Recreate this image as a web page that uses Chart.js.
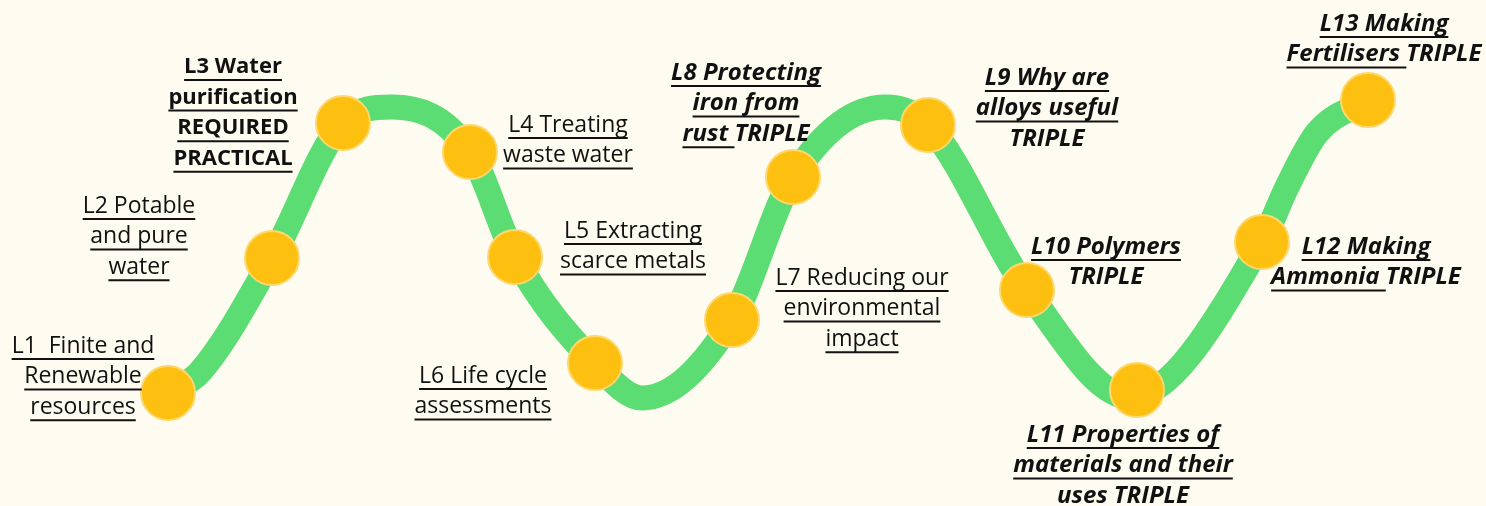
<!DOCTYPE html>
<html>
<head>
<meta charset="utf-8">
<script src="https://cdn.jsdelivr.net/npm/chart.js@4.4.1/dist/chart.umd.min.js"></script>
<style>
  html, body { margin: 0; padding: 0; background: #fefcf0; }
  #wrap { width: 1486px; height: 506px; }
</style>
</head>
<body>
<div id="wrap"><canvas id="journey"></canvas></div>
<script>
// lesson stops (circle centres)
var lessonX = [168, 272, 343, 470, 515, 595, 732, 793, 928, 1027, 1137, 1262, 1368];
var lessonY = [393, 258, 123, 152, 257, 363, 320, 177, 125, 290, 390, 242, 100];

// the green road: stops plus its crests, dips and the bends at each end
var roadX = [168, 200, 272, 343, 392, 470, 515, 595, 642, 732, 793, 885, 928, 1027, 1130, 1262, 1287, 1317, 1368];
var roadY = [393, 372, 258, 123, 107, 152, 257, 363, 398, 320, 177, 107, 125, 290, 397, 242, 187, 133, 100];

// label text, one entry per line: [text, underlined]
var lessonLabels = [
    [[["L1  Finite and", 1]], [["Renewable", 1]], [["resources", 1]]],
    [[["L2 Potable", 1]], [["and pure", 1]], [["water", 1]]],
    [[["L3 Water", 1]], [["purification", 1]], [["REQUIRED", 1]], [["PRACTICAL", 1]]],
    [[["L4 Treating", 1]], [["waste water", 1]]],
    [[["L5 Extracting", 1]], [["scarce metals", 1]]],
    [[["L6 Life cycle", 1]], [["assessments", 1]]],
    [[["L7 Reducing our", 1]], [["environmental", 1]], [["impact", 1]]],
    [[["L8 Protecting", 1]], [["iron from", 1]], [["rust ", 1], ["TRIPLE", 0]]],
    [[["L9 Why are", 1]], [["alloys useful", 1]], [["TRIPLE", 0]]],
    [[["L10 Polymers", 1]], [["TRIPLE", 0]]],
    [[["L11 Properties of", 1]], [["materials and their", 1]], [["uses TRIPLE", 0]]],
    [[["L12 Making", 1]], [["Ammonia ", 1], ["TRIPLE", 0]]],
    [[["L13 Making", 1]], [["Fertilisers ", 1], ["TRIPLE", 0]]]
];
var lessonStyle = ["r", "r", "b", "r", "r", "r", "r", "bi", "bi", "bi", "bi", "bi", "bi"];

// where each label block sits: centre x, first line centre y
var labelX = [83, 139, 233, 568, 633, 483, 862, 746, 1047, 1106, 1123, 1366, 1384];
var labelY = [346, 206, 67, 125, 231, 376, 278, 73, 78, 247, 435, 247, 24];

var FONT = '"Open Sans", "DejaVu Sans", sans-serif';
var LINE_H = 30.6;

function fontFor(style) {
    if (style === "b") return "bold 22px " + FONT;
    if (style === "bi") return "italic bold 24px " + FONT;
    return "23px " + FONT;
}

// draws the lesson labels next to the stops
var labelPlugin = {
    id: "lessonLabels",
    afterDatasetsDraw: function(chart) {
        var ctx = chart.ctx;
        var xs = chart.scales.x, ys = chart.scales.y;
        ctx.save();
        ctx.fillStyle = "#111";
        ctx.strokeStyle = "#111";
        ctx.lineWidth = 2;
        ctx.textBaseline = "middle";
        ctx.textAlign = "left";
        lessonLabels.forEach(function(lines, i) {
            ctx.font = fontFor(lessonStyle[i]);
            var cx = xs.getPixelForValue(labelX[i]);
            var cy = ys.getPixelForValue(labelY[i]);
            lines.forEach(function(parts, j) {
                var full = parts.map(function(p) { return p[0]; }).join("");
                var w = ctx.measureText(full).width;
                var x = cx - w / 2;
                var y = cy + j * LINE_H;
                parts.forEach(function(p) {
                    var pw = ctx.measureText(p[0]).width;
                    ctx.fillText(p[0], x, y);
                    if (p[1]) {
                        ctx.beginPath();
                        ctx.moveTo(x, y + 13);
                        ctx.lineTo(x + pw, y + 13);
                        ctx.stroke();
                    }
                    x += pw;
                });
            });
        });
        ctx.restore();
    }
};

var road = roadX.map(function(x, i) { return { x: x, y: roadY[i] }; });
var stops = lessonX.map(function(x, i) { return { x: x, y: lessonY[i] }; });

var chart = new Chart(document.getElementById("journey"), {
    type: "line",
    data: {
        datasets: [
            {
                label: "stops",
                data: stops,
                showLine: false,
                pointRadius: 27,
                pointBackgroundColor: "#fec010",
                pointBorderColor: "#fdd770",
                pointBorderWidth: 2,
                order: 1
            },
            {
                label: "road",
                data: road,
                borderColor: "#5bdd73",
                borderWidth: 25,
                borderCapStyle: "round",
                cubicInterpolationMode: "monotone",
                pointRadius: 0,
                fill: false,
                order: 2
            }
        ]
    },
    options: {
        responsive: true,
        maintainAspectRatio: false,
        animation: false,
        layout: { padding: 0, autoPadding: false },
        plugins: { legend: { display: false }, tooltip: { enabled: false } },
        scales: {
            x: { type: "linear", min: 0, max: 1486, display: false },
            y: { type: "linear", min: 0, max: 506, reverse: true, display: false }
        },
        clip: false
    },
    plugins: [labelPlugin]
});
</script>
</body>
</html>
